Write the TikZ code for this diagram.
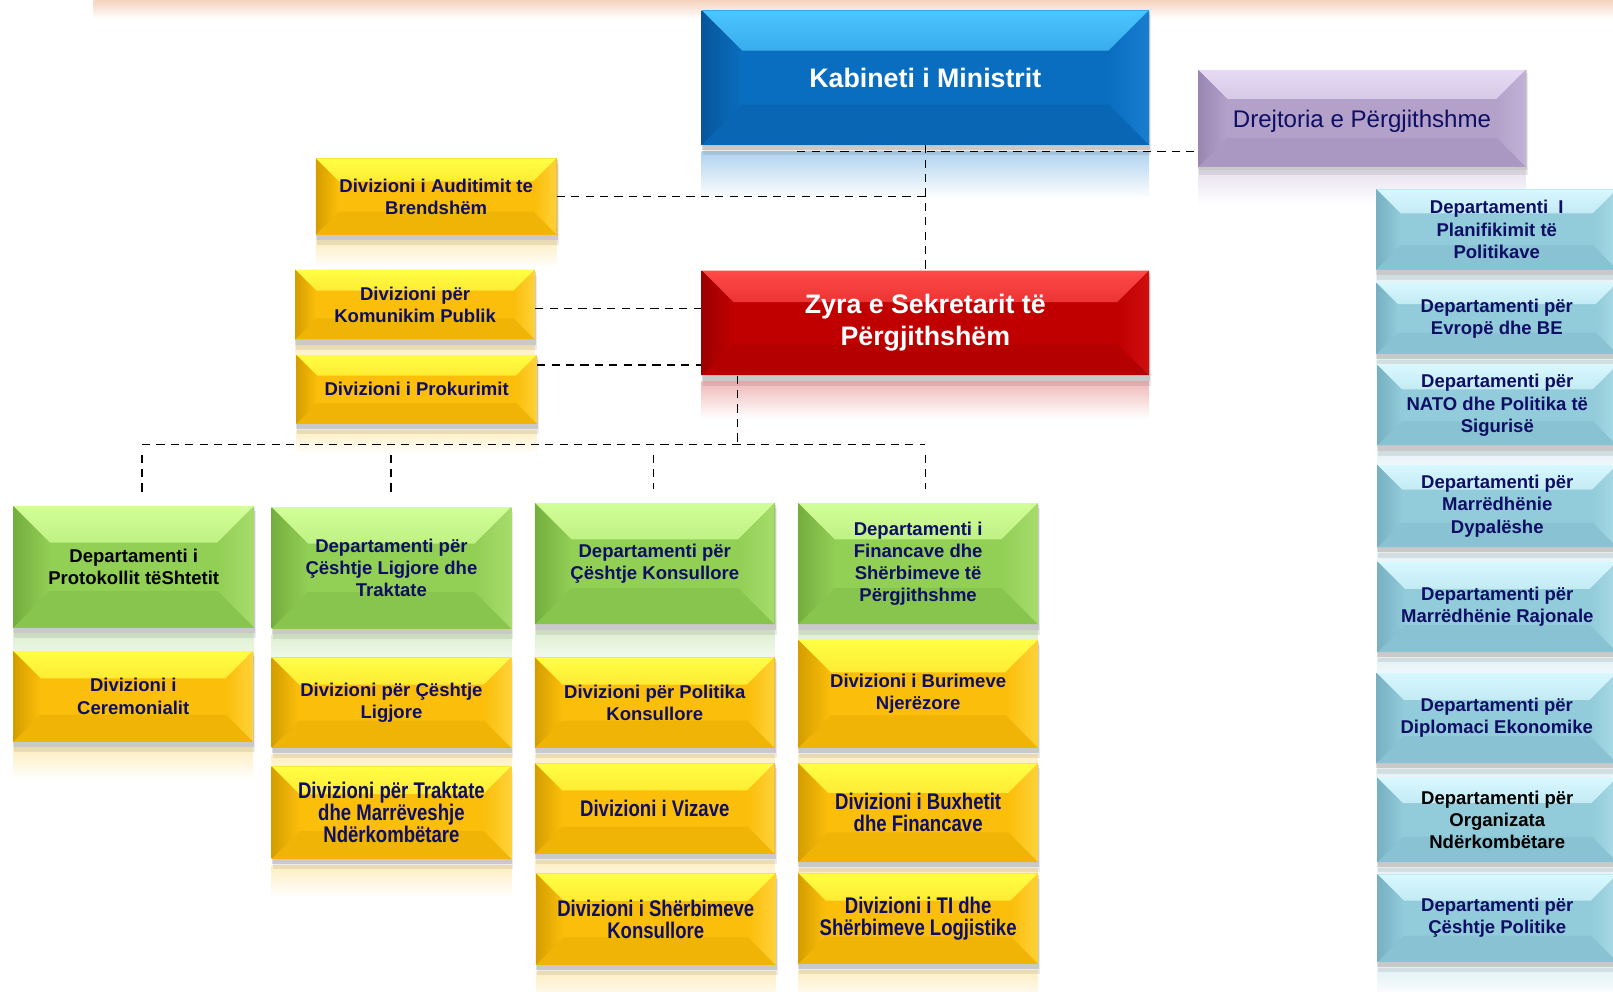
\documentclass[tikz,border=0pt]{standalone}
\usepackage{fontspec}
\setmainfont{Liberation Sans}
\newfontfamily\narrowfont[FakeStretch=0.82]{Liberation Sans}
\usetikzlibrary{calc}
\definecolor{navy}{RGB}{14,14,100}
\definecolor{peach}{HTML}{F6D2BE}
% yellow
\definecolor{Ymain}{HTML}{FBBE0A}\definecolor{Ylight}{HTML}{FFFF45}\definecolor{Ydark}{HTML}{D49E00}\definecolor{Yright}{HTML}{FFD23A}\definecolor{Yrefl}{HTML}{FDEDC0}
% green
\definecolor{Gmain}{HTML}{92CF55}\definecolor{Glight}{HTML}{D2FF98}\definecolor{Gdark}{HTML}{74AE3E}\definecolor{Gright}{HTML}{A6DC6C}\definecolor{Grefl}{HTML}{DDEFD0}
% cyan
\definecolor{Cmain}{HTML}{92CBD9}\definecolor{Clight}{HTML}{D8F8FF}\definecolor{Cdark}{HTML}{76B0C2}\definecolor{Cright}{HTML}{A8DAE6}\definecolor{Crefl}{HTML}{E2F1F5}
% blue
\definecolor{Bmain}{HTML}{0A6EC0}\definecolor{Blight}{HTML}{4CC6FF}\definecolor{Bdark}{HTML}{07569A}\definecolor{Bright}{HTML}{1A7ED0}\definecolor{Brefl}{HTML}{AFD2EE}
% red
\definecolor{Rmain}{HTML}{C00000}\definecolor{Rlight}{HTML}{FF4A4A}\definecolor{Rdark}{HTML}{9C0000}\definecolor{Rright}{HTML}{D01010}\definecolor{Rrefl}{HTML}{F0B8B8}
% purple
\definecolor{Pmain}{HTML}{B3A1C9}\definecolor{Plight}{HTML}{E6DAF4}\definecolor{Pdark}{HTML}{9A86B3}\definecolor{Pright}{HTML}{C2B2D6}\definecolor{Prefl}{HTML}{E8E2EE}

\tikzset{
  conn/.style={draw=black, line width=1.3pt, dash pattern=on 8pt off 6pt},
  bev/.style={rectangle, fill=#1main, draw=none, inner sep=2pt, align=center,
    text=navy, font=\fontsize{18}{21.5}\selectfont\bfseries,
    path picture={
      \shade[top color=#1light, bottom color=#1main]
        let \p1=(path picture bounding box.south west), \p2=(path picture bounding box.north east),
            \n1={0.3*(\y2-\y1)} in
        (\x1,\y2) -- (\x2,\y2) -- (\x2-\n1*1pt,\y2-\n1*1pt) -- (\x1+\n1*1pt,\y2-\n1*1pt) -- cycle;
      \shade[left color=#1dark, right color=#1main]
        let \p1=(path picture bounding box.south west), \p2=(path picture bounding box.north east),
            \n1={0.3*(\y2-\y1)} in
        (\x1,\y1) -- (\x1,\y2) -- (\x1+\n1*1pt,\y2-\n1*1pt) -- (\x1+\n1*1pt,\y1+\n1*1pt) -- cycle;
      \shade[left color=#1main, right color=#1right]
        let \p1=(path picture bounding box.south west), \p2=(path picture bounding box.north east),
            \n1={0.3*(\y2-\y1)} in
        (\x2,\y1) -- (\x2,\y2) -- (\x2-\n1*1pt,\y2-\n1*1pt) -- (\x2-\n1*1pt,\y1+\n1*1pt) -- cycle;
      \fill[#1dark, opacity=0.3]
        let \p1=(path picture bounding box.south west), \p2=(path picture bounding box.north east),
            \n1={0.3*(\y2-\y1)} in
        (\x1,\y1) -- (\x2,\y1) -- (\x2-\n1*1pt,\y1+\n1*1pt) -- (\x1+\n1*1pt,\y1+\n1*1pt) -- cycle;
    }},
  bigtext/.style={text=white, font=\fontsize{26}{31}\selectfont\bfseries},
  dirtext/.style={text=navy, font=\fontsize{23.4}{28}\selectfont, text depth=0pt, yshift=-2pt},
  narrowtext/.style={font=\narrowfont\bfseries\fontsize{22}{21.5}\selectfont},
  blacktext/.style={text=black},
}

% name, x1, y1, x2, y2, scheme, extra style, text
\newcommand{\bbox}[8]{%
  \pgfmathsetmacro{\bw}{#4-#2}\pgfmathsetmacro{\bh}{#5-#3}%
  \pgfmathsetmacro{\bcx}{(#2+#4)/2}\pgfmathsetmacro{\bcy}{(#3+#5)/2}%
  \pgfmathsetmacro{\ry}{#5+6}\pgfmathsetmacro{\rye}{#5+6+0.35*\bh}%
  \shade[top color=#6refl, bottom color=white] (#2,\ry) rectangle (#4,\rye);
  \fill[black, opacity=0.08] (#2+1,#3+5) rectangle (#4+2,#5+10);
  \fill[black, opacity=0.14] (#2,#3+2) rectangle (#4+1,#5+5);
  \node[bev=#6, minimum width=\bw pt, minimum height=\bh pt, #7] (#1) at (\bcx,\bcy) {#8};
}

\begin{document}
\begin{tikzpicture}[x=1pt, y=-1pt]
\useasboundingbox (0,0) rectangle (1568,964);
\clip (0,0) rectangle (1568,964);
\fill[white] (0,0) rectangle (1568,964);
\shade[top color=peach, bottom color=white] (91,0) rectangle (1568,18);

% top
\bbox{kab}{682}{10}{1117}{141}{B}{bigtext}{Kabineti i Ministrit}
\bbox{drej}{1165}{66}{1483}{160}{P}{dirtext}{Drejtoria e Përgjithshme}
\bbox{zyra}{682}{263}{1117}{365}{R}{bigtext}{Zyra e Sekretarit të\\Përgjithshëm}

% left divisions
\bbox{aud}{307}{154}{541}{228}{Y}{}{Divizioni i Auditimit te\\Brendshëm}
\bbox{kom}{287}{262}{520}{330}{Y}{}{Divizioni për\\Komunikim Publik}
\bbox{prok}{288}{345}{522}{412}{Y}{}{Divizioni i Prokurimit}

% column 1
\bbox{g1}{13}{492}{247}{610}{G}{blacktext}{Departamenti i\\Protokollit tëShtetit}
\bbox{y1}{13}{633}{246}{721}{Y}{}{Divizioni i\\Ceremonialit}
% column 2
\bbox{g2}{264}{493}{497}{611}{G}{}{Departamenti për\\Çështje Ligjore dhe\\Traktate}
\bbox{y2}{264}{639}{497}{727}{Y}{}{Divizioni për Çështje\\Ligjore}
\bbox{y3}{264}{745}{497}{835}{Y}{narrowtext}{Divizioni për Traktate\\dhe Marrëveshje\\Ndërkombëtare}
% column 3
\bbox{g3}{520}{489}{753}{607}{G}{}{Departamenti për\\Çështje Konsullore}
\bbox{y4}{520}{639}{753}{727}{Y}{}{Divizioni për Politika\\Konsullore}
\bbox{y5}{520}{742}{753}{830}{Y}{narrowtext}{Divizioni i Vizave}
\bbox{y6}{521}{849}{754}{938}{Y}{narrowtext}{Divizioni i Shërbimeve\\Konsullore}
% column 4
\bbox{g4}{776}{489}{1009}{607}{G}{}{Departamenti i\\Financave dhe\\Shërbimeve të\\Përgjithshme}
\bbox{y7}{776}{622}{1009}{727}{Y}{}{Divizioni i Burimeve\\Njerëzore}
\bbox{y8}{776}{742}{1009}{838}{Y}{narrowtext}{Divizioni i Buxhetit\\dhe Financave}
\bbox{y9}{776}{849}{1009}{937}{Y}{narrowtext}{Divizioni i TI dhe\\Shërbimeve Logjistike}

% right column
\bbox{r1}{1338}{184}{1572}{262}{C}{}{Departamenti~ I\\Planifikimit të\\Politikave}
\bbox{r2}{1338}{275}{1572}{344}{C}{}{Departamenti për\\Evropë dhe BE}
\bbox{r3}{1339}{355}{1572}{433}{C}{}{Departamenti për\\NATO dhe Politika të\\Sigurisë}
\bbox{r4}{1339}{452}{1572}{532}{C}{}{Departamenti për\\Marrëdhënie\\Dypalëshe}
\bbox{r5}{1339}{546}{1572}{634}{C}{}{Departamenti për\\Marrëdhënie Rajonale}
\bbox{r6}{1338}{654}{1572}{742}{C}{}{Departamenti për\\Diplomaci Ekonomike}
\bbox{r7}{1339}{756}{1572}{838}{C}{blacktext}{Departamenti për\\Organizata\\Ndërkombëtare}
\bbox{r8}{1339}{850}{1572}{935}{C}{}{Departamenti për\\Çështje Politike}

% connectors
\coordinate (dj) at (775,147);
\coordinate (hub) at (717,432);
\coordinate (h1) at (138,432);
\coordinate (h2) at (380,432);
\coordinate (h3) at (635,432);
\coordinate (h4) at (899.5,432);
\draw[conn] (kab.south) -- (zyra.north);
\draw[conn] (dj) -- (dj -| drej.west);
\draw[conn] (aud.east) -- (aud.east -| kab.south);
\draw[conn] ([yshift=-4pt]kom.east) -- ([yshift=-4pt]kom.east -| zyra.west);
\draw[conn] ([yshift=-10pt]prok.north east) -- ([yshift=-10pt]prok.north east -| zyra.west);
\draw[conn] (hub |- zyra.south) -- (hub);
\draw[conn] (h1) -- (h4);
\foreach \h/\g in {h1/g1,h2/g2,h3/g3,h4/g4}
  \draw[conn, shorten <=10pt, shorten >=13pt] (\h) -- (\h |- \g.north);
\end{tikzpicture}
\end{document}
